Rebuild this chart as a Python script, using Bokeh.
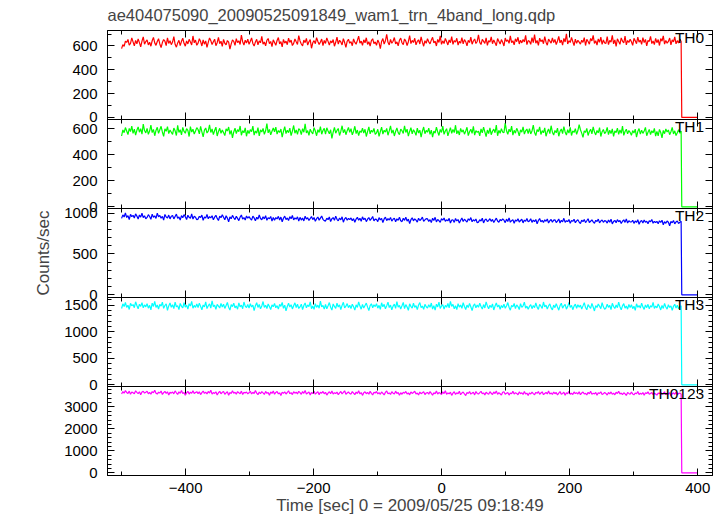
import numpy as np
from bokeh.plotting import figure
from bokeh.layouts import column
from bokeh.models import LinearAxis, SingleIntervalTicker, Range1d, Label, CustomLabelingPolicy
from bokeh.embed import file_html
from bokeh.resources import INLINE

TITLE = "ae404075090_20090525091849_wam1_trn_4band_long.qdp"
XLABEL = "Time [sec] 0 = 2009/05/25 09:18:49"
YLABEL = "Counts/sec"

# time grid of the light-curve bins (sec from trigger)
T_FIRST = -500.0
T_LAST = 374.0
# after the data ends the rate falls to zero
TAIL_T = [375.0, 400.0]
TAIL_V = [0.0, 0.0]

band_names = ["TH0", "TH1", "TH2", "TH3", "TH0123"]

th0 = [
    578, 612, 596, 641, 630, 655, 607, 622, 668, 634, 601, 647, 619, 660, 628, 593, 641, 676, 615, 637,
    652, 609, 631, 598, 644, 672, 626, 605, 638, 661, 617, 586, 629, 654, 640, 603, 668, 621, 645, 611,
    633, 679, 614, 590, 626, 648, 603, 639, 665, 622, 598, 643, 617, 656, 634, 609, 684, 627, 650, 606,
    624, 661, 637, 600, 652, 615, 642, 589, 631, 668, 645, 612, 635, 657, 602, 628, 673, 619, 640, 596,
    655, 623, 610, 646, 632, 574, 618, 651, 639, 605, 662, 628, 644, 613, 691, 636, 608, 649, 625, 658,
    614, 640, 667, 621, 599, 634, 656, 610, 643, 627, 681, 616, 633, 602, 648, 663, 620, 638, 594, 652,
    629, 606, 646, 671, 618, 637, 592, 655, 624, 641, 611, 666, 630, 649, 604, 622, 659, 635, 613, 687,
    642, 617, 601, 650, 628, 664, 608, 636, 653, 581, 627, 645, 619, 670, 638, 612, 633, 658, 603, 646,
    621, 668, 639, 607, 643, 626, 654, 598, 631, 675, 616, 648, 634, 609, 662, 629, 588, 640, 657, 623,
    637, 602, 659, 630, 615, 647, 683, 624, 641, 606, 652, 627, 669, 613, 636, 600, 645, 661, 619, 634,
    606, 650, 628, 577, 638, 662, 616, 644, 697, 631, 609, 655, 623, 640, 671, 618, 635, 602, 648, 666,
    627, 612, 659, 641, 604, 636, 688, 620, 647, 629, 665, 610, 639, 652, 617, 676, 632, 598, 644, 623,
    661, 635, 618, 649, 673, 626, 641, 600, 655, 630, 686, 614, 643, 620, 664, 637, 609, 651, 628, 679,
    613, 646, 632, 665, 607, 640, 624, 670, 618, 653, 636, 601, 647, 629, 674, 615, 642, 659, 621, 638,
    694, 630, 612, 656, 639, 622, 668, 606, 645, 633, 677, 619, 650, 627, 603, 662, 640, 616, 654, 631,
    600, 667, 638, 651, 622, 685, 629, 644, 610, 660, 636, 673, 617, 648, 626, 655, 634, 689, 612, 645,
    640, 614, 671, 628, 696, 623, 647, 605, 666, 637, 652, 619, 679, 632, 607, 658, 641, 624, 668, 629,
    655, 611, 642, 681, 627, 650, 608, 663, 634, 702, 617, 645, 629, 672, 638, 603, 657, 622, 648, 633,
    616, 648, 630, 670, 604, 656, 637, 615, 663, 642, 689, 621, 644, 608, 659, 631, 675, 613, 650, 626,
    622, 679, 611, 647, 633, 690, 618, 651, 597, 660, 637, 614, 668, 641, 625, 683, 609, 646, 630, 657,
    635, 606, 664, 643, 619, 675, 632, 649, 613, 670, 628, 655, 601, 646, 638, 681, 620, 642, 611, 664,
    628, 654, 604, 662, 640, 685, 616, 647, 623, 639, 667, 610, 651, 634, 676, 618, 645, 625, 659, 637,
]

th1 = [
    545, 592, 571, 610, 584, 556, 603, 579, 621, 566, 598, 552, 589, 615, 574, 601, 560, 636, 587, 569,
    604, 558, 583, 629, 571, 596, 547, 588, 612, 565, 593, 620, 576, 542, 600, 581, 617, 563, 591, 574,
    557, 606, 585, 549, 627, 572, 594, 553, 611, 580, 566, 602, 588, 541, 618, 575, 597, 560, 584, 609,
    595, 562, 619, 577, 538, 590, 607, 568, 583, 631, 572, 599, 556, 587, 613, 545, 579, 604, 566, 592,
    571, 548, 600, 583, 614, 557, 588, 530, 576, 605, 563, 594, 579, 622, 551, 586, 570, 608, 543, 589,
    563, 594, 579, 621, 552, 584, 567, 610, 545, 592, 576, 603, 558, 585, 640, 569, 596, 554, 581, 607,
    578, 613, 560, 587, 572, 599, 536, 581, 617, 564, 590, 571, 605, 548, 583, 626, 566, 592, 557, 601,
    590, 555, 602, 574, 639, 569, 586, 550, 597, 576, 561, 609, 583, 547, 594, 572, 618, 559, 587, 604,
    559, 608, 583, 562, 593, 527, 575, 612, 567, 588, 603, 549, 580, 624, 570, 596, 555, 586, 611, 573,
    601, 554, 580, 620, 563, 591, 548, 584, 572, 606, 568, 597, 541, 579, 615, 562, 589, 574, 603, 557,
    569, 597, 542, 578, 614, 560, 589, 575, 603, 551, 584, 623, 566, 592, 545, 580, 607, 571, 555, 598,
    586, 565, 623, 572, 598, 544, 580, 609, 561, 593, 577, 550, 605, 568, 590, 536, 583, 614, 563, 588,
    574, 605, 557, 590, 536, 582, 567, 613, 578, 549, 596, 572, 621, 558, 584, 601, 546, 579, 609, 566,
    596, 571, 628, 562, 587, 553, 604, 575, 592, 559, 583, 612, 548, 578, 597, 565, 619, 552, 586, 573,
    583, 546, 600, 569, 613, 577, 540, 591, 564, 608, 555, 582, 598, 570, 629, 547, 589, 566, 602, 575,
    571, 644, 585, 558, 597, 576, 621, 552, 589, 567, 604, 581, 546, 593, 574, 616, 560, 585, 599, 563,
    602, 561, 584, 629, 572, 548, 594, 579, 615, 557, 586, 570, 608, 543, 577, 599, 563, 624, 574, 552,
    588, 570, 606, 543, 581, 599, 564, 618, 576, 552, 593, 567, 611, 549, 584, 572, 601, 558, 587, 632,
    593, 567, 534, 585, 572, 604, 549, 580, 597, 561, 616, 575, 553, 588, 569, 609, 541, 578, 595, 563,
    577, 612, 556, 589, 563, 600, 542, 584, 571, 605, 558, 592, 566, 621, 550, 580, 597, 562, 587, 573,
    550, 587, 568, 598, 537, 579, 602, 559, 590, 565, 583, 611, 547, 574, 596, 556, 585, 569, 603, 544,
    581, 546, 596, 572, 531, 588, 563, 599, 576, 591, 555, 578, 612, 561, 585, 548, 570, 593, 566, 583,
]

th2 = [
    935, 978, 952, 1003, 946, 969, 921, 985, 957, 972, 940, 991, 963, 928, 976, 950, 998, 944, 967, 931,
    947, 980, 958, 923, 986, 949, 966, 934, 999, 955, 971, 938, 960, 915, 983, 952, 941, 975, 929, 962,
    970, 929, 959, 988, 937, 953, 914, 968, 944, 981, 956, 922, 973, 948, 935, 990, 927, 961, 950, 918,
    926, 960, 946, 975, 911, 953, 938, 984, 930, 957, 942, 968, 919, 950, 973, 935, 909, 961, 944, 979,
    949, 917, 967, 938, 893, 954, 930, 972, 943, 921, 960, 935, 908, 951, 977, 926, 945, 915, 964, 939,
    957, 932, 914, 963, 941, 905, 949, 926, 976, 934, 918, 955, 929, 968, 911, 944, 930, 959, 902, 947,
    911, 945, 928, 960, 916, 951, 894, 937, 963, 920, 940, 909, 956, 931, 970, 917, 942, 925, 954, 903,
    948, 914, 939, 904, 961, 927, 943, 910, 934, 957, 920, 946, 899, 931, 952, 913, 938, 965, 924, 907,
    902, 938, 920, 952, 896, 931, 945, 911, 963, 924, 905, 940, 917, 954, 888, 929, 947, 912, 935, 921,
    941, 907, 932, 887, 927, 948, 913, 936, 900, 954, 919, 938, 895, 925, 946, 910, 931, 958, 904, 926,
    922, 896, 944, 917, 935, 884, 928, 951, 908, 932, 915, 947, 901, 924, 938, 893, 930, 912, 949, 906,
    895, 936, 911, 949, 902, 926, 871, 919, 942, 905, 930, 914, 890, 937, 909, 924, 951, 898, 916, 933,
    929, 898, 920, 883, 937, 909, 948, 892, 922, 907, 886, 931, 913, 940, 899, 918, 904, 935, 878, 915,
    916, 886, 934, 904, 921, 877, 913, 940, 897, 925, 908, 889, 930, 911, 945, 894, 919, 903, 927, 882,
    889, 919, 902, 937, 880, 915, 927, 896, 910, 932, 899, 923, 884, 912, 938, 903, 887, 921, 906, 929,
    913, 883, 926, 897, 941, 888, 907, 920, 875, 916, 902, 930, 891, 909, 924, 880, 914, 899, 934, 893,
    904, 930, 886, 915, 895, 922, 869, 909, 933, 892, 911, 885, 918, 900, 927, 878, 906, 921, 889, 913,
    917, 884, 903, 928, 878, 912, 893, 936, 887, 907, 896, 921, 874, 910, 899, 925, 882, 904, 918, 890,
    872, 913, 896, 921, 883, 906, 931, 885, 900, 918, 892, 876, 911, 897, 926, 880, 903, 915, 887, 908,
    902, 877, 916, 889, 925, 868, 897, 911, 881, 920, 894, 909, 873, 900, 917, 886, 927, 879, 905, 893,
    891, 912, 874, 904, 886, 919, 863, 898, 909, 879, 915, 888, 901, 870, 906, 893, 922, 876, 899, 884,
    898, 870, 906, 885, 913, 857, 894, 875, 903, 888, 845, 897, 881, 910, 868, 892, 904, 872, 889, 900,
]

th3 = [
    1440, 1527, 1475, 1553, 1461, 1502, 1421, 1538, 1490, 1513, 1455, 1566, 1497, 1434, 1521, 1480, 1549, 1452, 1508, 1471,
    1532, 1446, 1499, 1412, 1541, 1478, 1575, 1460, 1505, 1430, 1519, 1485, 1558, 1442, 1496, 1527, 1403, 1488, 1544, 1463,
    1510, 1438, 1560, 1472, 1493, 1419, 1535, 1481, 1452, 1548, 1466, 1503, 1427, 1529, 1487, 1572, 1445, 1498, 1461, 1523,
    1458, 1541, 1479, 1416, 1506, 1470, 1563, 1437, 1492, 1527, 1448, 1582, 1474, 1501, 1425, 1516, 1483, 1449, 1537, 1468,
    1520, 1441, 1497, 1553, 1463, 1409, 1511, 1476, 1538, 1451, 1489, 1426, 1545, 1470, 1504, 1436, 1562, 1485, 1457, 1514,
    1447, 1530, 1468, 1505, 1398, 1492, 1549, 1459, 1515, 1433, 1486, 1571, 1462, 1500, 1439, 1524, 1478, 1418, 1509, 1473,
    1536, 1453, 1494, 1429, 1518, 1481, 1556, 1444, 1502, 1395, 1477, 1540, 1466, 1512, 1431, 1493, 1547, 1458, 1520, 1440,
    1469, 1522, 1418, 1497, 1545, 1452, 1507, 1474, 1566, 1437, 1488, 1423, 1531, 1461, 1503, 1445, 1578, 1470, 1496, 1428,
    1515, 1434, 1490, 1552, 1463, 1411, 1526, 1478, 1443, 1539, 1467, 1508, 1421, 1498, 1557, 1450, 1484, 1532, 1456, 1501,
    1437, 1521, 1472, 1410, 1508, 1460, 1563, 1485, 1426, 1517, 1449, 1496, 1541, 1465, 1402, 1493, 1528, 1454, 1511, 1475,
    1530, 1446, 1499, 1425, 1548, 1471, 1517, 1434, 1489, 1560, 1457, 1503, 1415, 1484, 1522, 1443, 1569, 1466, 1497, 1431,
    1490, 1554, 1436, 1512, 1468, 1405, 1527, 1480, 1447, 1538, 1462, 1495, 1419, 1506, 1551, 1455, 1486, 1424, 1519, 1472,
    1449, 1509, 1462, 1543, 1430, 1494, 1408, 1521, 1470, 1558, 1441, 1487, 1512, 1427, 1498, 1464, 1533, 1452, 1575, 1479,
    1516, 1433, 1492, 1418, 1530, 1466, 1506, 1444, 1549, 1478, 1421, 1503, 1459, 1536, 1473, 1400, 1491, 1525, 1453, 1507,
    1464, 1540, 1477, 1429, 1514, 1450, 1565, 1488, 1435, 1500, 1459, 1527, 1412, 1485, 1544, 1468, 1505, 1426, 1497, 1457,
    1521, 1445, 1486, 1552, 1463, 1407, 1499, 1470, 1534, 1438, 1508, 1476, 1419, 1530, 1460, 1491, 1558, 1447, 1483, 1424,
    1478, 1513, 1436, 1497, 1457, 1546, 1465, 1422, 1519, 1483, 1441, 1562, 1470, 1502, 1430, 1489, 1528, 1451, 1413, 1504,
    1455, 1531, 1468, 1408, 1494, 1539, 1446, 1487, 1517, 1428, 1476, 1553, 1461, 1500, 1417, 1485, 1522, 1444, 1509, 1466,
    1502, 1431, 1489, 1550, 1458, 1416, 1512, 1474, 1443, 1536, 1467, 1393, 1495, 1459, 1524, 1482, 1437, 1548, 1471, 1426,
    1449, 1519, 1462, 1497, 1420, 1537, 1478, 1439, 1506, 1455, 1561, 1472, 1414, 1490, 1531, 1446, 1488, 1427, 1515, 1460,
    1511, 1436, 1483, 1405, 1528, 1462, 1496, 1448, 1542, 1470, 1423, 1507, 1456, 1519, 1432, 1493, 1466, 1554, 1441, 1487,
    1452, 1525, 1476, 1412, 1498, 1441, 1536, 1469, 1428, 1511, 1460, 1489, 1403, 1482, 1520, 1447, 1503, 1434, 1472, 1491,
]

th0123 = [
    3588, 3701, 3627, 3745, 3660, 3612, 3719, 3574, 3683, 3641, 3598, 3736, 3665, 3609, 3692, 3553, 3677, 3714, 3630, 3668,
    3712, 3602, 3659, 3577, 3698, 3641, 3761, 3620, 3585, 3673, 3635, 3724, 3566, 3650, 3705, 3613, 3688, 3546, 3662, 3629,
    3679, 3598, 3731, 3644, 3571, 3690, 3622, 3752, 3605, 3660, 3536, 3638, 3709, 3587, 3671, 3625, 3740, 3611, 3654, 3693,
    3607, 3686, 3562, 3649, 3725, 3618, 3672, 3590, 3704, 3633, 3759, 3581, 3655, 3617, 3691, 3540, 3646, 3712, 3596, 3664,
    3701, 3574, 3642, 3688, 3529, 3653, 3611, 3734, 3626, 3670, 3583, 3697, 3649, 3604, 3720, 3567, 3661, 3632, 3680, 3598,
    3643, 3716, 3589, 3667, 3610, 3747, 3628, 3555, 3676, 3602, 3694, 3639, 3571, 3705, 3620, 3658, 3534, 3681, 3615, 3727,
    3579, 3662, 3703, 3596, 3640, 3521, 3674, 3618, 3689, 3586, 3657, 3735, 3605, 3648, 3563, 3696, 3627, 3670, 3594, 3711,
    3652, 3573, 3699, 3619, 3745, 3591, 3637, 3680, 3548, 3661, 3608, 3715, 3582, 3644, 3690, 3560, 3671, 3625, 3704, 3597,
    3668, 3539, 3631, 3693, 3604, 3721, 3587, 3650, 3612, 3676, 3553, 3641, 3702, 3594, 3662, 3736, 3578, 3633, 3685, 3610,
    3585, 3697, 3628, 3560, 3674, 3611, 3732, 3592, 3655, 3526, 3643, 3688, 3601, 3664, 3579, 3710, 3620, 3546, 3669, 3634,
    3702, 3596, 3651, 3574, 3683, 3619, 3545, 3662, 3728, 3601, 3637, 3568, 3694, 3626, 3590, 3719, 3609, 3656, 3531, 3647,
    3575, 3668, 3622, 3705, 3587, 3640, 3552, 3681, 3613, 3659, 3716, 3594, 3630, 3542, 3677, 3603, 3649, 3691, 3566, 3634,
    3660, 3583, 3698, 3617, 3537, 3644, 3602, 3725, 3589, 3655, 3621, 3569, 3687, 3608, 3740, 3578, 3639, 3598, 3671, 3525,
    3627, 3690, 3571, 3645, 3603, 3712, 3556, 3634, 3678, 3590, 3519, 3652, 3611, 3697, 3584, 3629, 3664, 3548, 3701, 3614,
    3586, 3653, 3707, 3597, 3640, 3549, 3672, 3612, 3580, 3694, 3623, 3561, 3680, 3606, 3730, 3573, 3647, 3600, 3538, 3666,
    3692, 3578, 3625, 3661, 3540, 3633, 3599, 3718, 3586, 3650, 3614, 3555, 3685, 3603, 3642, 3570, 3706, 3592, 3628, 3519,
    3641, 3589, 3676, 3606, 3552, 3663, 3621, 3703, 3575, 3632, 3687, 3558, 3611, 3657, 3594, 3724, 3583, 3639, 3566, 3680,
    3602, 3659, 3543, 3628, 3697, 3580, 3615, 3668, 3531, 3644, 3603, 3712, 3576, 3625, 3563, 3681, 3609, 3650, 3587, 3695,
    3557, 3633, 3679, 3591, 3618, 3547, 3664, 3601, 3709, 3572, 3626, 3594, 3660, 3528, 3642, 3615, 3688, 3569, 3605, 3654,
    3612, 3540, 3657, 3596, 3683, 3574, 3627, 3551, 3669, 3608, 3713, 3585, 3630, 3562, 3646, 3599, 3522, 3661, 3617, 3578,
    3674, 3593, 3549, 3636, 3602, 3698, 3567, 3620, 3581, 3655, 3535, 3643, 3609, 3686, 3574, 3615, 3660, 3553, 3627, 3591,
    3539, 3630, 3604, 3667, 3572, 3613, 3690, 3558, 3622, 3586, 3649, 3510, 3597, 3641, 3575, 3676, 3561, 3608, 3632, 3584,
]

series = [th0, th1, th2, th3, th0123]
colors = ["#ff0000", "#00ff00", "#0000ff", "#00ffff", "#ff00ff"]

# axis settings per panel
y_ranges = [(-17, 730), (-13, 672), (-33, 1056), (-32, 1647), (-120, 3930)]
y_major = [200, 200, 500, 500, 1000]
y_minor = [2, 2, 5, 5, 5]
x_range = (-522, 423)
frame_h = [89, 89, 89, 89, 89]

FONT = "Liberation Sans"
OVERLAP = 10

HIDE_CODE = """
const n = indices.size
for (let i = 0; i < n; i++) indices.unset(i)
return indices
"""


def style_axis(ax, show_labels):
    ax.axis_line_color = "black"
    ax.axis_line_width = 1
    ax.major_tick_in = 7
    ax.major_tick_out = 0
    ax.minor_tick_in = 4
    ax.minor_tick_out = 0
    ax.major_tick_line_color = "black"
    ax.minor_tick_line_color = "black"
    if show_labels:
        ax.major_label_text_font = FONT
        ax.major_label_text_font_size = "15px"
        ax.major_label_text_color = "black"
    else:
        ax.major_label_policy = CustomLabelingPolicy(code=HIDE_CODE)
        ax.major_label_text_font_size = "1px"
        ax.major_label_standoff = 0


figs = []
for k in range(5):
    last = k == 4
    p = figure(
        frame_width=605, frame_height=frame_h[k],
        x_range=Range1d(*x_range), y_range=Range1d(*y_ranges[k]),
        x_axis_type=None, y_axis_type=None,
        output_backend="svg", toolbar_location=None,
        min_border_left=107, min_border_right=10,
        min_border_top=(28 if k == 0 else OVERLAP),
        min_border_bottom=(0 if last else OVERLAP),
    )
    p.background_fill_alpha = 0
    p.border_fill_alpha = 0
    p.outline_line_color = "black"
    p.grid.visible = False

    # axes on all four sides, ticks pointing inwards
    xb = LinearAxis(ticker=SingleIntervalTicker(interval=200, num_minor_ticks=2))
    style_axis(xb, last)
    if last:
        xb.major_label_overrides = {-400: "\u2212400", -200: "\u2212200"}
        xb.major_label_standoff = 7
        xb.axis_label = XLABEL
        xb.axis_label_text_font = FONT
        xb.axis_label_text_font_size = "17px"
        xb.axis_label_text_font_style = "normal"
        xb.axis_label_standoff = 0
    p.add_layout(xb, "below")
    xt = LinearAxis(ticker=SingleIntervalTicker(interval=200, num_minor_ticks=2))
    style_axis(xt, False)
    p.add_layout(xt, "above")

    yl = LinearAxis(ticker=SingleIntervalTicker(interval=y_major[k], num_minor_ticks=y_minor[k]))
    style_axis(yl, True)
    yl.major_label_standoff = 10
    if k == 2:
        yl.axis_label = YLABEL
        yl.axis_label_text_font = FONT
        yl.axis_label_text_font_size = "17px"
        yl.axis_label_text_font_style = "normal"
        yl.axis_label_standoff = 8
    p.add_layout(yl, "left")
    yr = LinearAxis(ticker=SingleIntervalTicker(interval=y_major[k], num_minor_ticks=y_minor[k]))
    style_axis(yr, False)
    p.add_layout(yr, "right")

    vals = series[k]
    t = np.linspace(T_FIRST, T_LAST, len(vals))
    xs = np.concatenate([t, TAIL_T])
    ys = np.concatenate([vals, TAIL_V])
    p.line(xs, ys, line_color=colors[k], line_width=1.2)

    p.add_layout(Label(x=410, y=y_ranges[k][1], text=band_names[k],
                       text_align="right", text_baseline="top", y_offset=2,
                       text_font=FONT, text_font_size="15.5px", text_color="black"))

    if k == 0:
        p.title.text = TITLE
        p.title.text_font = FONT
        p.title.text_font_size = "16.5px"
        p.title.text_font_style = "normal"
        p.title.align = "left"
        p.title.offset = 0
        p.title.standoff = 6
    else:
        p.margin = (-2 * OVERLAP, 0, 0, 0)
    figs.append(p)

layout = column(*figs, spacing=0)

with open("out.html", "w") as f:
    f.write(file_html(layout, INLINE))
